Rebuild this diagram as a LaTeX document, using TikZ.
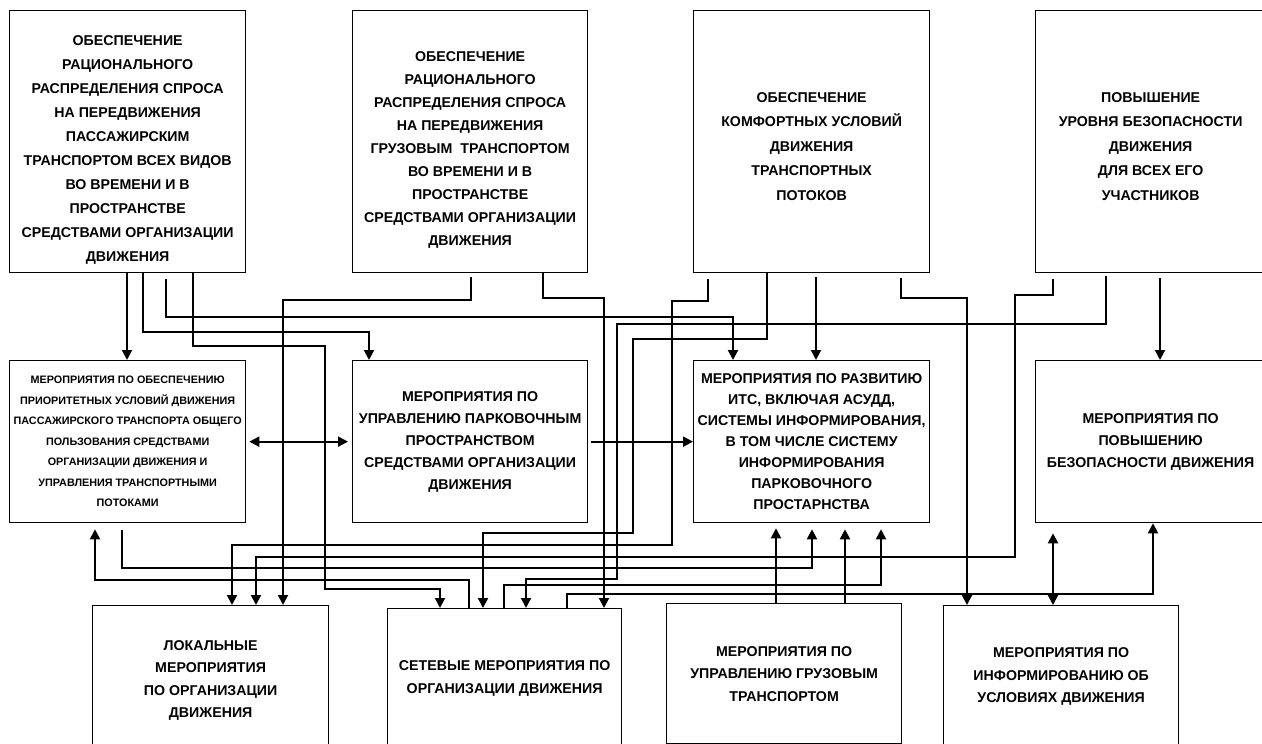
\documentclass[tikz,border=0pt]{standalone}
\usepackage{fontspec}
\setmainfont{Liberation Sans}
\usetikzlibrary{arrows.meta, calc}

\begin{document}
\begin{tikzpicture}[x=1pt, y=-1pt,
  box/.style={draw, line width=1.3pt, anchor=north west, align=center, inner sep=2pt},
  big/.style={font=\fontsize{14.2}{#1}\selectfont\bfseries},
  conn/.style={line width=2pt, -{Triangle[length=10pt, width=10pt]}},
  both/.style={line width=2pt, {Triangle[length=10pt, width=10pt]}-{Triangle[length=10pt, width=10pt]}}]
  \useasboundingbox (0,0) rectangle (1262,744);
  \clip (0,0) rectangle (1262,744);

  % goals
  \node[box, big=24, minimum width=236pt, minimum height=262pt] (t1) at (9,10)
    {\rule{0pt}{26pt}ОБЕСПЕЧЕНИЕ\\РАЦИОНАЛЬНОГО\\РАСПРЕДЕЛЕНИЯ СПРОСА\\НА ПЕРЕДВИЖЕНИЯ\\ПАССАЖИРСКИМ\\ТРАНСПОРТОМ ВСЕХ ВИДОВ\\ВО ВРЕМЕНИ И В\\ПРОСТРАНСТВЕ\\СРЕДСТВАМИ ОРГАНИЗАЦИИ\\ДВИЖЕНИЯ};
  \node[box, big=23, minimum width=235pt, minimum height=262pt] (t2) at (352,10)
    {\rule{0pt}{27pt}ОБЕСПЕЧЕНИЕ\\РАЦИОНАЛЬНОГО\\РАСПРЕДЕЛЕНИЯ СПРОСА\\НА ПЕРЕДВИЖЕНИЯ\\ГРУЗОВЫМ\ \ ТРАНСПОРТОМ\\ВО ВРЕМЕНИ И В\\ПРОСТРАНСТВЕ\\СРЕДСТВАМИ ОРГАНИЗАЦИИ\\ДВИЖЕНИЯ};
  \node[box, big=24.5, minimum width=236pt, minimum height=262pt] (t3) at (693,10)
    {\rule{0pt}{19pt}ОБЕСПЕЧЕНИЕ\\КОМФОРТНЫХ УСЛОВИЙ\\ДВИЖЕНИЯ\\ТРАНСПОРТНЫХ\\ПОТОКОВ};
  \node[box, big=24.5, minimum width=230pt, minimum height=262pt] (t4) at (1035,10)
    {\rule{0pt}{19pt}ПОВЫШЕНИЕ\\УРОВНЯ БЕЗОПАСНОСТИ\\ДВИЖЕНИЯ\\ДЛЯ ВСЕХ ЕГО\\УЧАСТНИКОВ};

  % measures
  \node[box, font=\fontsize{10.8}{20.5}\selectfont\bfseries, minimum width=236pt, minimum height=162pt] (m1) at (9,360)
    {МЕРОПРИЯТИЯ ПО ОБЕСПЕЧЕНИЮ\\ПРИОРИТЕТНЫХ УСЛОВИЙ ДВИЖЕНИЯ\\ПАССАЖИРСКОГО ТРАНСПОРТА ОБЩЕГО\\ПОЛЬЗОВАНИЯ СРЕДСТВАМИ\\ОРГАНИЗАЦИИ ДВИЖЕНИЯ И\\УПРАВЛЕНИЯ ТРАНСПОРТНЫМИ\\ПОТОКАМИ};
  \node[box, big=22, minimum width=235pt, minimum height=162pt] (m2) at (352,360)
    {МЕРОПРИЯТИЯ ПО\\УПРАВЛЕНИЮ ПАРКОВОЧНЫМ\\ПРОСТРАНСТВОМ\\СРЕДСТВАМИ ОРГАНИЗАЦИИ\\ДВИЖЕНИЯ};
  \node[box, big=21, minimum width=236pt, minimum height=162pt] (m3) at (693,360)
    {МЕРОПРИЯТИЯ ПО РАЗВИТИЮ\\ИТС, ВКЛЮЧАЯ АСУДД,\\СИСТЕМЫ ИНФОРМИРОВАНИЯ,\\В ТОМ ЧИСЛЕ СИСТЕМУ\\ИНФОРМИРОВАНИЯ\\ПАРКОВОЧНОГО\\ПРОСТАРНСТВА};
  \node[box, big=22, minimum width=230pt, minimum height=162pt] (m4) at (1035,360)
    {МЕРОПРИЯТИЯ ПО\\ПОВЫШЕНИЮ\\БЕЗОПАСНОСТИ ДВИЖЕНИЯ};

  % lower level
  \node[box, big=22.5, minimum width=236pt, minimum height=150pt] (b1) at (92,605)
    {ЛОКАЛЬНЫЕ\\МЕРОПРИЯТИЯ\\ПО ОРГАНИЗАЦИИ\\ДВИЖЕНИЯ};
  \node[box, big=22.5, minimum width=234pt, minimum height=140pt] (b2) at (387,608)
    {СЕТЕВЫЕ МЕРОПРИЯТИЯ ПО\\ОРГАНИЗАЦИИ ДВИЖЕНИЯ};
  \node[box, big=22.5, minimum width=235pt, minimum height=140pt] (b3) at (666,603)
    {МЕРОПРИЯТИЯ ПО\\УПРАВЛЕНИЮ ГРУЗОВЫМ\\ТРАНСПОРТОМ};
  \node[box, big=22.5, minimum width=235pt, minimum height=142pt] (b4) at (943,605)
    {МЕРОПРИЯТИЯ ПО\\ИНФОРМИРОВАНИЮ ОБ\\УСЛОВИЯХ ДВИЖЕНИЯ};

  % from goals
  \draw[conn] (t1.south -| 127,0) -- (m1.north -| 127,0);
  \draw[conn] (t1.south -| 143,0) -- (143,332) -| (m2.north -| 369,0);
  \draw[conn] ($(t1.south -| 166,0)+(0,6)$) -- (166,317) -| (m3.north -| 733,0);
  \draw[conn] (t1.south -| 193,0) -- (193,346) -| (325,589) -| (b2.north -| 440,0);
  \draw[conn] ($(t2.south -| 471,0)+(0,4)$) -- (471,300) -| (b1.north -| 283,0);
  \draw[conn] (t2.south -| 543,0) -- (543,298) -| (b2.north -| 604,0);
  \draw[conn] ($(t3.south -| 708,0)+(0,6)$) -- (708,301) -| (672,545) -| (b1.north -| 232,0);
  \draw[conn] (t3.south -| 767,0) -- (767,339) -| (633,533) -| (b2.north -| 483,0);
  \draw[conn] ($(t3.south -| 816,0)+(0,4)$) -- (m3.north -| 816,0);
  \draw[conn] ($(t3.south -| 901,0)+(0,5)$) -- (901,298) -| (b4.north -| 967,0);
  \draw[conn] ($(t4.south -| 1053,0)+(0,6)$) -- (1053,295) -| (1015,557) -| (b1.north -| 256,0);
  \draw[conn] ($(t4.south -| 1106,0)+(0,3)$) -- (1106,324) -| (617,579) -| (b2.north -| 526,0);
  \draw[conn] ($(t4.south -| 1160,0)+(0,5)$) -- (m4.north -| 1160,0);

  % between measures
  \draw[both, shorten <=3pt, shorten >=4pt] (m1.east) -- (m2.west);
  \draw[conn, shorten <=3pt] (m2.east) -- (m3.west);
  \draw[conn] ($(m1.south -| 122,0)+(0,7)$) -- (122,568) -| ($(m3.south -| 812,0)+(0,6)$);
  \draw[conn] (b2.north -| 469,0) |- (95,580) -- ($(m1.south -| 95,0)+(0,6)$);
  \draw[conn] (b2.north -| 504,0) |- (881,585) -- ($(m3.south -| 881,0)+(0,6)$);
  \draw[conn] (b2.north -| 567,0) |- (1153,594) -- (m4.south -| 1153,0);
  \draw[conn] (b3.north -| 776,0) -- ($(m3.south -| 776,0)+(0,5)$);
  \draw[conn] (b3.north -| 845,0) -- ($(m3.south -| 845,0)+(0,6)$);
  \draw[both] ($(m4.south -| 1053,0)+(0,10)$) -- (b4.north -| 1053,0);
\end{tikzpicture}
\end{document}
